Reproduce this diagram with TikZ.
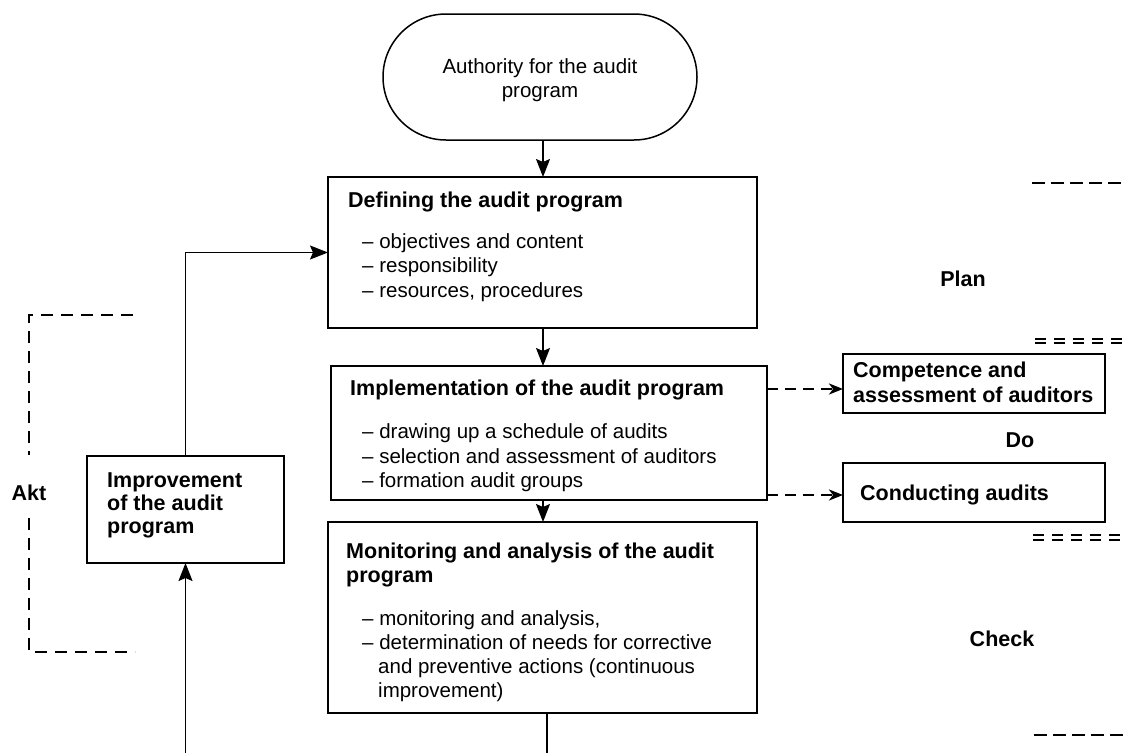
\documentclass[tikz,border=0pt]{standalone}
\usepackage{fontspec}
\setmainfont{Liberation Sans}
\usetikzlibrary{arrows.meta}
\begin{document}
\begin{tikzpicture}[x=1pt,y=-1pt,
  box/.style={draw, line width=1.8pt, inner sep=0pt, outer sep=0pt, anchor=north west},
  txt/.style={anchor=base west, inner sep=0pt, font=\fontsize{20.5}{24.5}\selectfont},
  btxt/.style={anchor=base west, inner sep=0pt, font=\fontsize{21.5}{24.5}\selectfont\bfseries},
  ctxt/.style={anchor=base, inner sep=0pt, font=\fontsize{21.5}{24.5}\selectfont\bfseries},
  flow/.style={line width=1.5pt, -{Stealth[length=18pt,width=14pt,inset=3pt]}},
  dflow/.style={line width=2.6pt, dash pattern=on 11pt off 7pt, -{Stealth[length=14pt,width=11pt,inset=4pt]}},
  rdash/.style={line width=2.8pt, dash pattern=on 13pt off 6pt},
  ddash/.style={line width=1.7pt, dash pattern=on 11pt off 8pt},
  ldash/.style={line width=1.8pt, dash pattern=on 12pt off 8pt}]
\useasboundingbox (0,0) rectangle (1124,753);

% stadium
\node[draw, line width=1.5pt, rounded corners=63pt, minimum width=314pt, minimum height=126pt,
      inner sep=0pt, outer sep=0pt, anchor=north west] (auth) at (383,14) {};
\node[anchor=base, inner sep=0pt, font=\fontsize{20.5}{24.5}\selectfont] (authA) at (540,73) {Authority for the audit};
\node[anchor=base, inner sep=0pt, font=\fontsize{20.5}{24.5}\selectfont] (authB) at (540,97) {program};

% main boxes
\node[box, minimum width=429pt, minimum height=151pt] (def) at (328,177) {};
\node[box, minimum width=436pt, minimum height=134pt] (impl) at (331,366) {};
\node[box, minimum width=429pt, minimum height=191pt] (mon) at (328,522) {};
\node[box, minimum width=197pt, minimum height=107pt] (imp) at (87,456) {};
\node[box, minimum width=262pt, minimum height=59pt] (comp) at (843,354) {};
\node[box, minimum width=262pt, minimum height=59pt] (cond) at (843,463) {};

% texts
\node[btxt] (defH) at (348,207) {Defining the audit program};
\node[txt] (def1) at (362,248) {– objectives and content};
\node[txt] (def2) at (362,272) {– responsibility};
\node[txt] (def3) at (362,297) {– resources, procedures};

\node[btxt] (implH) at (350,395) {Implementation of the audit program};
\node[txt] (impl1) at (362,438) {– drawing up a schedule of audits};
\node[txt] (impl2) at (362,463) {– selection and assessment of auditors};
\node[txt] (impl3) at (362,487) {– formation audit groups};

\node[btxt] (monH1) at (346,558) {Monitoring and analysis of the audit};
\node[btxt] (monH2) at (346,582) {program};
\node[txt] (mon1) at (362,625) {– monitoring and analysis,};
\node[txt] (mon2) at (362,649) {– determination of needs for corrective};
\node[txt] (mon3) at (378,673) {and preventive actions (continuous};
\node[txt] (mon4) at (378,697) {improvement)};

\node[btxt] (impT1) at (107,487) {Improvement};
\node[btxt] (impT2) at (107,510) {of the audit};
\node[btxt] (impT3) at (107,533) {program};

\node[btxt] (compT1) at (853,377) {Competence and};
\node[btxt] (compT2) at (853,402) {assessment of auditors};
\node[btxt] (condT) at (860,500) {Conducting audits};

\node[ctxt] (akt) at (29,500) {Akt};
\node[ctxt] (plan) at (963,286) {Plan};
\node[ctxt] (do) at (1020,447) {Do};
\node[ctxt] (check) at (1002,646) {Check};

% connectors
\coordinate (colx) at (543,0);
\draw[flow] (auth.south -| colx) -- (def.north -| colx);
\draw[flow] (def.south -| colx) -- (impl.north -| colx);
\draw[flow] (impl.south -| colx) -- (mon.north -| colx);
\draw[flow] (imp.north) |- (def.west);
\coordinate (b1) at (547,753);
\coordinate (b2) at (185.5,753);
\draw[line width=1.5pt] (mon.south -| b1) -- (b1);
\draw[flow] (b2) -- (imp.south);

\coordinate (a1) at (0,389);
\coordinate (a2) at (0,495);
\draw[dflow] (impl.east |- a1) -- (comp.west |- a1);
\draw[dflow] (impl.east |- a2) -- (cond.west |- a2);

% PDCA separators
\draw[rdash] (1032,183) -- (1124,183);
\draw[ddash] (1035,339) -- (1124,339);
\draw[ddash] (1035,343) -- (1124,343);
\draw[ddash] (1033,535) -- (1124,535);
\draw[ddash] (1033,540) -- (1124,540);
\draw[rdash] (1034,735) -- (1124,735);

% Act bracket
\draw[ldash] (133,315) -- (29,315) -- (29,455);
\draw[ldash] (29,518) -- (29,652) -- (135,652);
\end{tikzpicture}
\end{document}
